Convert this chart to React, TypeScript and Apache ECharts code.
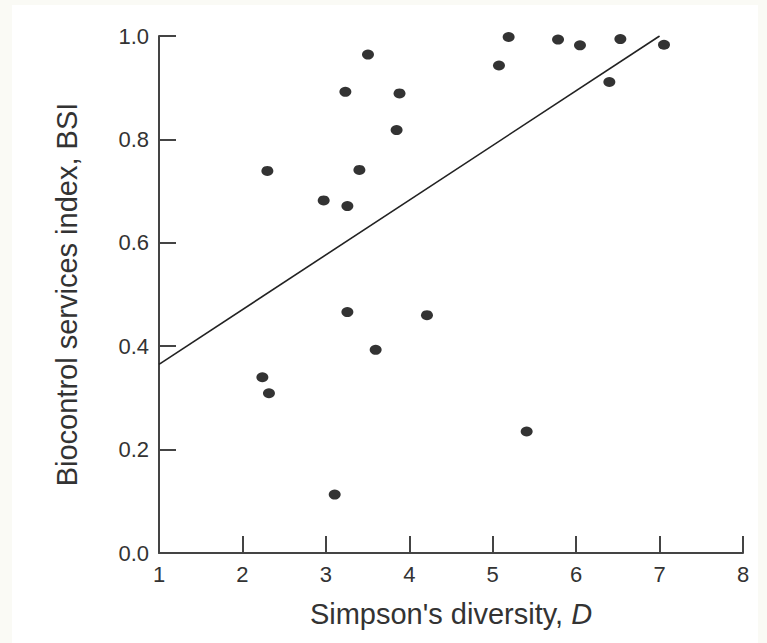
import React, { useEffect, useRef } from "react";
import * as echarts from "echarts";

const diversityD = [3.505, 3.234, 3.883, 3.848, 2.299, 3.402, 2.974, 3.258, 3.258, 3.597, 2.239, 2.318, 3.106, 4.212, 5.407, 5.191, 5.075, 5.783, 6.046, 6.530, 6.398, 7.053];
const bsiValues = [0.964, 0.892, 0.889, 0.818, 0.739, 0.741, 0.682, 0.671, 0.466, 0.393, 0.340, 0.309, 0.113, 0.460, 0.235, 0.998, 0.943, 0.993, 0.982, 0.994, 0.911, 0.983];
const fitX = [1, 7];
const fitY = [0.365, 1.0];
const xTicks = [1, 2, 3, 4, 5, 6, 7, 8];
const yTicks = [0, 0.2, 0.4, 0.6, 0.8, 1.0];

const FONT = "'Liberation Sans', Arial, Helvetica, sans-serif";
const AXIS_COLOR = "#444";
const TEXT_COLOR = "#333";

export default function App() {
  const ref = useRef<HTMLDivElement>(null);
  useEffect(() => {
    document.body.style.margin = "0";
    const chart = echarts.init(ref.current!, null, { renderer: "svg" });
    const axisCommon = {
      axisLine: { show: true, lineStyle: { color: AXIS_COLOR, width: 2 } },
      axisTick: { show: true, inside: true, length: 17, lineStyle: { color: AXIS_COLOR, width: 2 } },
      splitLine: { show: false },
    };
    chart.setOption({
      animation: false,
      backgroundColor: "transparent",
      grid: { left: 159, top: 36, width: 584, height: 517, containLabel: false },
      xAxis: {
        type: "value",
        min: xTicks[0],
        max: xTicks[xTicks.length - 1],
        interval: 1,
        ...axisCommon,
        axisLabel: { color: TEXT_COLOR, fontSize: 22, fontFamily: FONT, margin: 10 },
        name: "Simpson's diversity, {i|D}",
        nameLocation: "middle",
        nameGap: 46,
        nameTextStyle: {
          color: TEXT_COLOR,
          fontSize: 29,
          fontFamily: FONT,
          rich: { i: { fontStyle: "italic", fontSize: 29, fontFamily: FONT, color: TEXT_COLOR } },
        },
      },
      yAxis: {
        type: "value",
        min: yTicks[0],
        max: yTicks[yTicks.length - 1],
        interval: 0.2,
        ...axisCommon,
        axisLabel: {
          color: TEXT_COLOR,
          fontSize: 22,
          fontFamily: FONT,
          margin: 10,
          formatter: (v: number) => v.toFixed(1),
        },
        name: "Biocontrol services index, BSI",
        nameLocation: "middle",
        nameGap: 78,
        nameTextStyle: { color: TEXT_COLOR, fontSize: 29, fontFamily: FONT },
      },
      series: [
        {
          type: "line",
          data: fitX.map((x, i) => [x, fitY[i]]),
          showSymbol: false,
          symbol: "none",
          lineStyle: { color: "#222", width: 1.6 },
          silent: true,
          z: 2,
        },
        {
          type: "scatter",
          data: diversityD.map((x, i) => [x, bsiValues[i]]),
          symbol: "circle",
          symbolSize: [12, 10],
          itemStyle: { color: "#000" },
          z: 3,
        },
      ],
    });
    return () => chart.dispose();
  }, []);
  return (
    <div style={{ position: "fixed", left: 0, top: 0, width: 767, height: 643, background: "#fafaf5" }}>
      <div style={{ position: "absolute", left: 12, top: 5, width: 746, height: 638, background: "#ffffff" }} />
      <div ref={ref} style={{ position: "absolute", left: 0, top: 0, width: 767, height: 643 }} />
    </div>
  );
}
